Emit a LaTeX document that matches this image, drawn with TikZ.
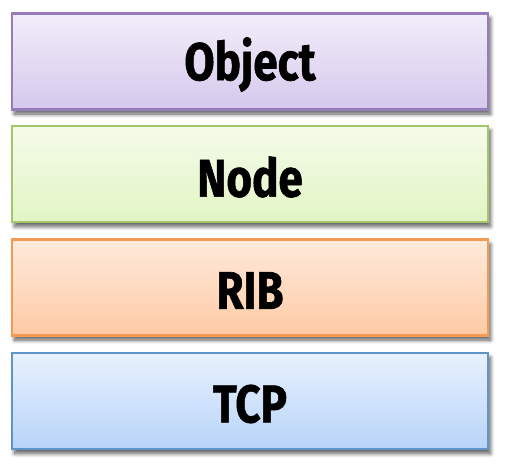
\documentclass[tikz,border=0pt]{standalone}
\usepackage{fontspec}
\setmainfont{Fira Sans}[BoldFeatures={FakeBold=1.2}]
\usetikzlibrary{shadows.blur}
\tikzset{
  layer/.style={draw, line width=2.8pt, minimum width=476pt, minimum height=96pt,
    inner sep=0pt, shading=axis, shading angle=0,
    blur shadow={shadow opacity=65, shadow xshift=2.5pt, shadow yshift=-4.5pt, shadow blur radius=4pt, shadow blur steps=10},
    font=\fontsize{53}{53}\selectfont\bfseries}
}
\newcommand{\cond}[1]{\raisebox{-3pt}[\height][\depth]{\scalebox{0.83}[1]{#1}}}
\begin{document}
\begin{tikzpicture}[x=1pt,y=-1pt]
\useasboundingbox (0,0) rectangle (507,471);
\node[layer, draw={rgb,255:red,150;green,125;blue,185}, top color={rgb,255:red,242;green,238;blue,250}, bottom color={rgb,255:red,213;green,200;blue,236}] (obj) at (250,61.5) {\cond{Object}};
\node[layer, draw={rgb,255:red,166;green,196;blue,108}, top color={rgb,255:red,245;green,251;blue,234}, bottom color={rgb,255:red,225;green,245;blue,196}] (node) at (250,174) {\cond{Node}};
\node[layer, draw={rgb,255:red,243;green,154;blue,85}, top color={rgb,255:red,255;green,234;blue,220}, bottom color={rgb,255:red,255;green,202;blue,164}] (rib) at (250,287.5) {\cond{RIB}};
\node[layer, draw={rgb,255:red,95;green,148;blue,202}, top color={rgb,255:red,232;green,241;blue,253}, bottom color={rgb,255:red,184;green,212;blue,249}] (tcp) at (250,401) {\cond{TCP}};
\end{tikzpicture}
\end{document}
